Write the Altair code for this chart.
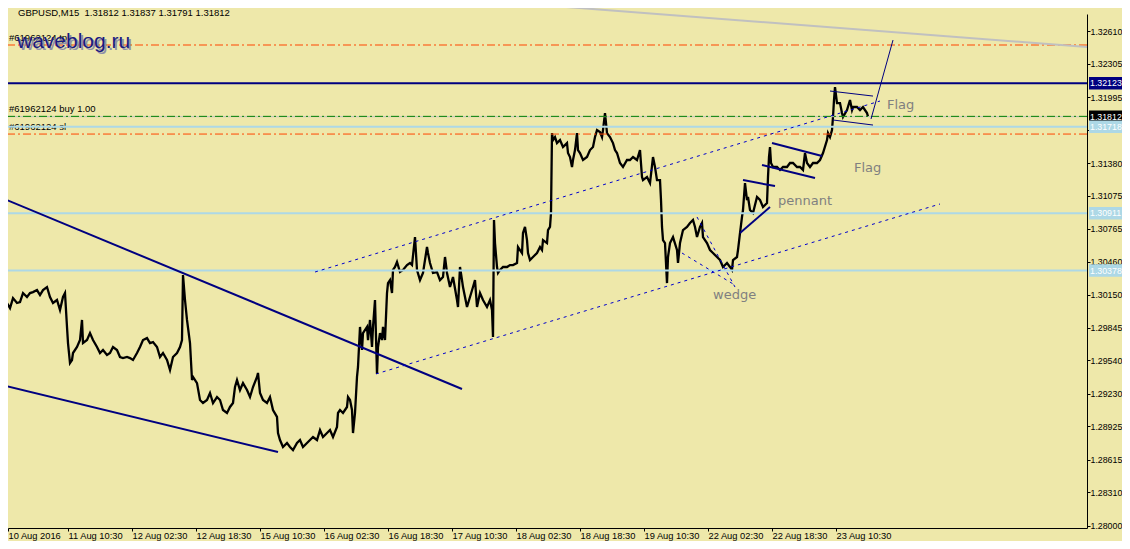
import json
import altair as alt
import pandas as pd

# ---------------- data ----------------
# M15 close path: (bar index, price)
price_seg1 = [(-1,1.30038),(3,1.30075),(6,1.30028),(9,1.30121),(13,1.30075),(16,1.30084),(19,1.30168),(23,1.30131),(26,1.30168),(29,1.30177),
              (33,1.30196),(36,1.30149),(39,1.30196),(43,1.30224),(46,1.30131),(49,1.30075),(53,1.30103),(56,1.30010),(59,1.30131),(61,1.30168),
              (63,1.29852),(64,1.29702),(66,1.29516),(68,1.29544),(69,1.29609),(73,1.29665),(76,1.29730),(78,1.29917),(79,1.29702),(83,1.29730),
              (86,1.29795),(89,1.29730),(93,1.29665),(96,1.29609),(99,1.29637),(103,1.29590),(106,1.29609),(109,1.29665),(113,1.29637),(116,1.29572),
              (119,1.29562),(123,1.29572),(126,1.29562),(129,1.29544),(133,1.29609),(136,1.29665),(139,1.29730),(143,1.29748),(146,1.29702),(149,1.29711),
              (153,1.29665),(156,1.29572),(159,1.29609),(163,1.29544),(166,1.29451),(169,1.29572),(173,1.29609),(176,1.29665),(178,1.29730),(179,1.30336),
              (181,1.30103),(183,1.29917),(186,1.29702),(188,1.29357),(189,1.29386),(193,1.29329),(196,1.29171),(199,1.29143),(203,1.29171),(206,1.29236),
              (209,1.29143),(213,1.29199)]
price_seg2 = [(216,1.29171),(219,1.29078),(223,1.29050),(226,1.29106),(229,1.29143),(231,1.29292),(233,1.29357),(236,1.29264),(239,1.29329),(243,1.29264),
              (246,1.29199),(249,1.29292),(253,1.29386),(254,1.29423),(256,1.29236),(259,1.29171),(263,1.29143),(266,1.29199),(269,1.29078),(273,1.29013),
              (274,1.28863),(276,1.28798),(279,1.28733),(283,1.28770),(286,1.28733),(289,1.28705),(293,1.28770),(296,1.28798),(299,1.28733),(303,1.28770),
              (306,1.28798),(309,1.28826),(313,1.28798),(316,1.28891),(319,1.28826),(323,1.28863),(326,1.28891),(329,1.28826),(333,1.28920),(334,1.29050),
              (336,1.29078),(339,1.29050),(343,1.29106),(344,1.29199),(346,1.29171),(348,1.29078),(349,1.28863),(351,1.29050),(353,1.29386),(354,1.29479),
              (356,1.29852),(358,1.29637),(359,1.29795),(363,1.29852),(364,1.29730),(366,1.29917),(368,1.29665),(369,1.29852),(371,1.30103),(373,1.29414),
              (374,1.29665),(376,1.29795),(378,1.29730),(379,1.29852),(381,1.29730),(383,1.30168),(384,1.30261),(386,1.30289),(388,1.30168),(389,1.30383),
              (391,1.30411),(393,1.30457),(396,1.30364),(399,1.30383),(403,1.30429),(406,1.30448),(408,1.30429),(411,1.30690),(413,1.30383),(416,1.30289),
              (419,1.30355),(423,1.30597),(424,1.30541),(426,1.30448),(429,1.30355),(433,1.30364)]
price_seg3 = [(436,1.30289),(439,1.30318),(441,1.30504),(443,1.30355),(446,1.30224),(449,1.30318),(453,1.30103),(454,1.30038),(456,1.30411),(458,1.30289),
              (459,1.30224),(463,1.30038),(466,1.30131),(469,1.30224),(471,1.30289),(473,1.30038),(476,1.30168),(479,1.30103),(483,1.30038),(486,1.30103),
              (488,1.30010),(489,1.29758),(490,1.30849),(491,1.30634),(493,1.30411),(494,1.30355),(496,1.30383),(499,1.30411),(503,1.30411),(506,1.30429),
              (509,1.30429),(513,1.30448),(514,1.30597),(516,1.30569),(518,1.30541),(519,1.30727),(521,1.30784),(523,1.30662),(524,1.30541),(526,1.30476),
              (529,1.30504),(533,1.30541),(536,1.30597),(538,1.30569),(539,1.30662),(543,1.30634),(544,1.30755),(546,1.30784),(547,1.30914),(548,1.31659),
              (549,1.31594),(551,1.31622),(553,1.31566),(556,1.31594),(559,1.31529),(563,1.31566),(564,1.31473),(566,1.31436),(568,1.31343),(569,1.31408),
              (571,1.31501),(573,1.31659),(574,1.31501),(576,1.31473),(579,1.31408),(583,1.31436),(586,1.31501),(589,1.31529),(591,1.31622),(593,1.31687),
              (596,1.31668),(598,1.31622),(599,1.31687),(601,1.31846),(603,1.31659),(606,1.31622),(609,1.31566),(611,1.31501),(613,1.31473),(616,1.31380),
              (619,1.31343),(623,1.31408),(626,1.31408),(629,1.31436),(633,1.31408),(636,1.31501),(638,1.31250),(639,1.31221),(643,1.31250),(646,1.31193),
              (649,1.31436),(651,1.31343),(653,1.31221)]
price_seg4 = [(656,1.31221),(657,1.31035),(658,1.30784),(659,1.30662),(661,1.30634),(663,1.30261),(664,1.30504),(666,1.30634),(669,1.30690),(673,1.30569),
              (674,1.30448),(676,1.30634),(679,1.30755),(683,1.30784),(686,1.30821),(689,1.30849),(691,1.30784),(693,1.30690),(696,1.30784),(698,1.30821),
              (699,1.30690),(703,1.30634),(706,1.30569),(709,1.30541),(713,1.30504),(716,1.30476),(719,1.30411),(723,1.30448),(726,1.30411),(728,1.30383),
              (729,1.30476),(733,1.30504),(734,1.30569),(736,1.30727),(738,1.30877),(739,1.30942),(741,1.31193),(743,1.31035),(744,1.31063),(746,1.30942),
              (749,1.30914),(753,1.31063),(756,1.31035),(759,1.30970),(763,1.31007),(764,1.31250),(765,1.31436),(766,1.31529),(767,1.31380),(769,1.31343),
              (773,1.31343),(776,1.31315),(779,1.31343),(783,1.31343),(786,1.31380),(789,1.31380),(793,1.31343),(796,1.31343),(799,1.31315),(801,1.31473),
              (803,1.31380),(806,1.31343),(809,1.31380),(813,1.31380),(816,1.31408),(819,1.31473),(823,1.31594),(824,1.31659),(826,1.31622),(828,1.31687),
              (829,1.31809),(830,1.31967),(831,1.32088),(833,1.31939),(836,1.31939),(838,1.31846),(839,1.31809),(843,1.31874),(846,1.31967),(848,1.31874),
              (849,1.31902),(853,1.31902),(856,1.31874),(859,1.31902),(863,1.31846),(864,1.31812)]

x_tick_labels = ["10 Aug 2016", "11 Aug 10:30", "12 Aug 02:30", "12 Aug 18:30", "15 Aug 10:30",
                 "16 Aug 02:30", "16 Aug 18:30", "17 Aug 10:30", "18 Aug 02:30", "18 Aug 18:30",
                 "19 Aug 10:30", "22 Aug 02:30", "22 Aug 18:30", "23 Aug 10:30"]
x_tick_step = 64          # bars between time labels
x_domain = [4, 1083]      # visible bar range
y_domain = [1.27978, 1.32769]
y_tick_values = [1.32610, 1.32305, 1.31995, 1.31690, 1.31380, 1.31075, 1.30765, 1.30460,
                 1.30150, 1.29845, 1.29540, 1.29230, 1.28925, 1.28615, 1.28310, 1.28000]

level_names = ["tp", "resistance", "bid", "buy", "blue1", "sl", "blue2", "blue3"]
level_prices = [1.32480, 1.32123, 1.31812, 1.31815, 1.31718, 1.31650, 1.30911, 1.30378]

box_names = ["resistance", "bid", "blue1", "blue2", "blue3"]
box_prices = [1.32123, 1.31812, 1.31718, 1.30911, 1.30378]
box_texts = ["1.32123", "1.31812", "1.31718", "1.30911", "1.30378"]

object_names = ["down_upper", "down_lower", "chan_upper", "chan_lower", "wedge_a", "wedge_b",
                "pennant_upper", "pennant_lower", "flag1_upper", "flag1_lower",
                "flag2_upper", "flag2_lower", "breakout", "silver"]
object_start = [(-2, 1.31054), (-2, 1.29310), (311, 1.30364), (372, 1.29414), (678, 1.30541), (693, 1.30877),
                (739, 1.31221), (736, 1.30727), (768, 1.31566), (758, 1.31361),
                (826, 1.32051), (829, 1.31781), (867, 1.31790), (511, 1.32871)]
object_end = [(458, 1.29274), (274, 1.28686), (876, 1.31958), (936, 1.30998), (731, 1.30242), (731, 1.30224),
              (771, 1.31165), (766, 1.30970), (818, 1.31445), (811, 1.31240),
              (869, 1.32004), (869, 1.31734), (889, 1.32526), (1083, 1.32461)]

note_texts = ["Flag", "Flag", "pennant", "wedge"]
note_bars = [883, 850, 774, 709]
note_prices = [1.31920, 1.31333, 1.31026, 1.30149]

order_texts = ["#61962124 tp", "#61962124 buy 1.00", "#61962124 sl"]
order_prices = [1.32480, 1.31815, 1.31650]

header_text = "GBPUSD,M15\u00a0\u00a01.31812 1.31837 1.31791 1.31812"
watermark_text = "waveblog.ru"

# ---------------- styles ----------------
FONT = "Liberation Sans"
NAVY = "#000080"
LBLUE = "#ADD8E6"
DASHDOT = [8, 3, 2, 3]
level_style = {
    "tp": dict(color="#FF4500", strokeWidth=1, strokeDash=DASHDOT),
    "resistance": dict(color=NAVY, strokeWidth=2),
    "bid": dict(color="#C0C0C0", strokeWidth=1),
    "buy": dict(color="#008000", strokeWidth=1, strokeDash=DASHDOT),
    "blue1": dict(color=LBLUE, strokeWidth=2),
    "sl": dict(color="#FF4500", strokeWidth=1, strokeDash=DASHDOT),
    "blue2": dict(color=LBLUE, strokeWidth=2),
    "blue3": dict(color=LBLUE, strokeWidth=2),
}
box_bg = {"resistance": NAVY, "bid": "#000000", "blue1": LBLUE, "blue2": LBLUE, "blue3": LBLUE}
object_group = {
    "down_upper": "thick", "down_lower": "thick", "pennant_upper": "thick", "pennant_lower": "thick",
    "flag1_upper": "thick", "flag1_lower": "thick",
    "flag2_upper": "thin", "flag2_lower": "thin", "breakout": "thin",
    "chan_upper": "dot", "chan_lower": "dot", "wedge_a": "dot", "wedge_b": "dot",
    "silver": "silver",
}
group_style = {
    "thick": dict(color=NAVY, strokeWidth=2),
    "thin": dict(color=NAVY, strokeWidth=1),
    "dot": dict(color="#0000CD", strokeWidth=1, strokeDash=[3, 4]),
    "silver": dict(color="#C0C0C0", strokeWidth=2),
}
AX_FS = 8.8

# ---------------- chart ----------------
xs = alt.Scale(domain=x_domain, nice=False, zero=False)
ys = alt.Scale(domain=y_domain, nice=False, zero=False)

x_values = [x_domain[0]] + [x_tick_step * k for k in range(1, len(x_tick_labels))]
label_expr = f"{json.dumps(x_tick_labels)}[round(datum.value / {x_tick_step})]"

x_axis = alt.Axis(values=x_values, labelExpr=label_expr, labelAlign="left", tickSize=3,
                  labelPadding=0, grid=False, title=None, domainColor="black", tickColor="black",
                  labelColor="black", labelFont=FONT, labelFontSize=9.3, labelOverlap=False,
                  labelFlush=False, labelBound=False)
y_axis = alt.Axis(orient="right", values=y_tick_values, format=".5f", tickSize=3, labelPadding=0,
                  grid=False, title=None, domainColor="black", tickColor="black", labelColor="black",
                  labelFont=FONT, labelFontSize=AX_FS, labelOverlap=False, labelAlign="left",
                  labelBound=False)


def X(field="bar:Q"):
    return alt.X(field, scale=xs, axis=x_axis)


def Y(field="price:Q"):
    return alt.Y(field, scale=ys, axis=y_axis)


price_df = pd.DataFrame(price_seg1 + price_seg2 + price_seg3 + price_seg4, columns=["bar", "price"])
layers = [alt.Chart(price_df).mark_line(color="black", strokeWidth=2.3).encode(x=X(), y=Y())]

# order labels (behind level lines)
order_df = pd.DataFrame({"price": order_prices, "t": order_texts})
layers.append(alt.Chart(order_df).mark_text(align="left", baseline="middle", dy=-7, font=FONT,
                                             fontSize=9.5, color="black").encode(
    x=alt.value(1), y=Y(), text="t:N"))

# horizontal levels
for name, p in zip(level_names, level_prices):
    df = pd.DataFrame({"price": [p]})
    layers.append(alt.Chart(df).mark_rule(**level_style[name]).encode(y=Y()))

# drawn objects
obj_rows = []
for n, s, e in zip(object_names, object_start, object_end):
    obj_rows.append({"id": n, "bar": s[0], "price": s[1], "g": object_group[n], "o": 0})
    obj_rows.append({"id": n, "bar": e[0], "price": e[1], "g": object_group[n], "o": 1})
obj_df = pd.DataFrame(obj_rows)
for g, st in group_style.items():
    layers.append(alt.Chart(obj_df).transform_filter(alt.datum.g == g).mark_line(**st).encode(
        x=X(), y=Y(), detail="id:N", order="o:Q"))

# pattern notes
note_df = pd.DataFrame({"bar": note_bars, "price": note_prices, "t": note_texts})
layers.append(alt.Chart(note_df).mark_text(align="left", baseline="middle", font="DejaVu Sans",
                                            fontSize=13, color="#808080").encode(
    x=X(), y=Y(), text="t:N"))

# price boxes on the axis
box_df = pd.DataFrame({"price": box_prices, "t": box_texts,
                       "bg": [box_bg[n] for n in box_names]})
layers.append(alt.Chart(box_df).mark_point(shape="M-1,-0.38L1,-0.38L1,0.38L-1,0.38Z", size=1089,
                                            filled=True, opacity=1, strokeWidth=0).encode(
    x=alt.value(1097.5), y=Y(), color=alt.Color("bg:N", scale=None)))
layers.append(alt.Chart(box_df).mark_text(align="left", baseline="middle", font=FONT, fontSize=AX_FS,
                                           color="white").encode(
    x=alt.value(1082), y=Y(), text="t:N"))

# header and watermark
hdr_df = pd.DataFrame({"t": [header_text]})
layers.append(alt.Chart(hdr_df).mark_text(align="left", baseline="middle", font=FONT, fontSize=9.5,
                                           color="black").encode(
    x=alt.value(10), y=alt.value(-1), text="t:N"))
wm_df = pd.DataFrame({"t": [watermark_text]})
layers.append(alt.Chart(wm_df).mark_text(align="left", baseline="middle", font=FONT, fontSize=21,
                                          color="#9090A8").encode(
    x=alt.value(11), y=alt.value(30), text="t:N"))
layers.append(alt.Chart(wm_df).mark_text(align="left", baseline="middle", font=FONT, fontSize=21,
                                          color="#1A1A80").encode(
    x=alt.value(9), y=alt.value(28), text="t:N"))

chart = alt.layer(*layers).properties(
    width=1079, height=514,
    padding={"left": 0, "top": 6, "right": 35, "bottom": 13},
    autosize=alt.AutoSizeParams(type="none"),
).configure(background="#EEE8AA").configure_view(stroke=None)

chart.save("out.html", embed_options={"renderer": "svg", "actions": False})
